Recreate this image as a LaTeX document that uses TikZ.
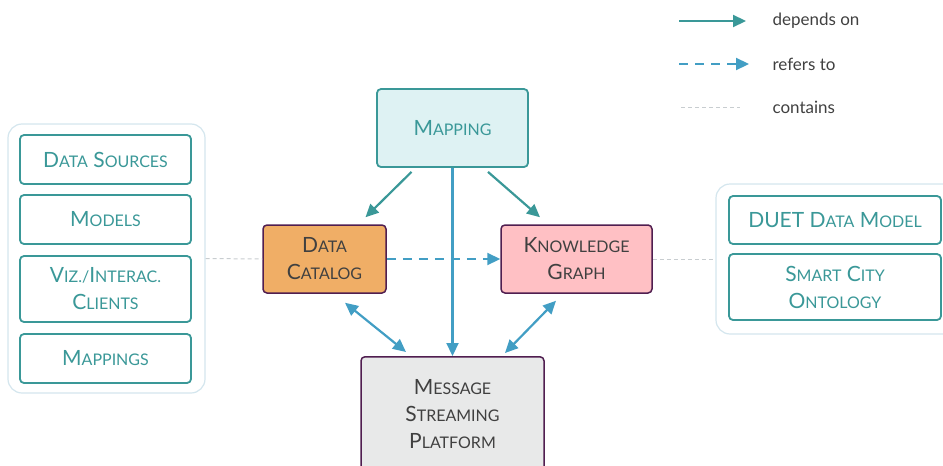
\documentclass[tikz,border=0pt]{standalone}
\usepackage{fontspec}
\setmainfont{Lato}
\usetikzlibrary{arrows.meta}

\definecolor{tealc}{RGB}{58,152,152}
\definecolor{bluec}{RGB}{66,158,196}
\definecolor{mapfill}{RGB}{222,242,243}
\definecolor{catfill}{RGB}{240,174,102}
\definecolor{kgfill}{RGB}{255,192,196}
\definecolor{mspfill}{RGB}{232,233,233}
\definecolor{plum}{RGB}{80,30,80}
\definecolor{grpline}{RGB}{212,230,238}
\definecolor{txt}{RGB}{64,64,64}
\definecolor{contline}{RGB}{200,205,208}

% fake small caps: first letter full size, rest smaller capitals
\newcommand{\scw}[2]{#1{\fontsize{16}{27}\selectfont\MakeUppercase{#2}}}

\tikzset{
  box/.style={rectangle, rounded corners=4pt, line width=1.8pt, align=center,
    font=\fontsize{21}{27}\selectfont},
  tealbox/.style={box, draw=tealc, fill=white, text=tealc},
  corebox/.style={box, draw=plum, line width=1.5pt, text=txt},
  group/.style={rectangle, rounded corners=14pt, draw=grpline, line width=1.2pt, fill=white},
  dep/.style={-{Triangle[length=13pt,width=12pt]}, line width=2.2pt, tealc},
  ref/.style={-{Triangle[length=13pt,width=12pt]}, line width=2.2pt, bluec},
  both/.style={{Triangle[length=13pt,width=12pt]}-{Triangle[length=13pt,width=12pt]}, line width=2.2pt, bluec},
  refd/.style={ref, dash pattern=on 9pt off 7pt},
  cont/.style={contline, line width=1pt, dash pattern=on 4pt off 3pt},
  legtext/.style={anchor=west, text=txt, font=\fontsize{17}{19}\selectfont}
}

\begin{document}
\begin{tikzpicture}[x=1pt, y=-1pt]
  \useasboundingbox (0,0) rectangle (943,466);

  % groups
  \node[group, minimum width=197pt, minimum height=269pt] (lgrp) at (106.5,258.5) {};
  \node[group, minimum width=244pt, minimum height=150pt] (rgrp) at (838,259) {};

  \node[tealbox, minimum width=171pt, minimum height=49pt] (src) at (105.5,159.5) {\scw{D}{ata} \scw{S}{ources}};
  \node[tealbox, minimum width=171pt, minimum height=49pt] (mod) at (105.5,219.5) {\scw{M}{odels}};
  \node[tealbox, minimum width=171pt, minimum height=66pt] (viz) at (105.5,289) {\scw{V}{iz./}\scw{I}{nterac.}\\\scw{C}{lients}};
  \node[tealbox, minimum width=171pt, minimum height=49pt] (maps) at (105.5,358.5) {\scw{M}{appings}};

  \node[tealbox, minimum width=212pt, minimum height=48pt] (duet) at (835,220) {DUET \scw{D}{ata} \scw{M}{odel}};
  \node[tealbox, minimum width=212pt, minimum height=66pt] (onto) at (835,287) {\scw{S}{mart} \scw{C}{ity}\\\scw{O}{ntology}};

  % core
  \node[tealbox, fill=mapfill, minimum width=151pt, minimum height=78pt] (map) at (452.5,128) {\scw{M}{apping}};
  \node[corebox, fill=catfill, minimum width=123pt, minimum height=68pt] (dc) at (324.5,259) {\scw{D}{ata}\\\scw{C}{atalog}};
  \node[corebox, fill=kgfill, minimum width=151pt, minimum height=68pt] (kg) at (576.5,259) {\scw{K}{nowledge}\\\scw{G}{raph}};
  \node[corebox, fill=mspfill, minimum width=183pt, minimum height=124pt, anchor=north] (msp) at (452.5,356) {};
  \node[text=txt, align=center, font=\fontsize{21}{27}\selectfont] (msptxt) at (452.5,414) {\scw{M}{essage}\\\scw{S}{treaming}\\\scw{P}{latform}};

  \begin{scope}
    \draw[dep] ([xshift=-41pt,yshift=-4pt]map.south) to ([xshift=41pt,yshift=7pt]dc.north);
    \draw[dep] ([xshift=35.5pt,yshift=-4pt]map.south) to ([xshift=-36.5pt,yshift=7pt]kg.north);
    \draw[ref] (map.south) to (msp.north);
    \draw[both] ([xshift=20.5pt,yshift=-9pt]dc.south) to ([xshift=-46.5pt,yshift=4pt]msp.north);
    \draw[both] ([xshift=-20.5pt,yshift=-7pt]kg.south) to ([xshift=52.5pt,yshift=3pt]msp.north);
    \draw[refd] (dc.east) to (kg.west);
    \draw[cont] (lgrp.east) to (dc.west);
    \draw[cont] (kg.east) to (rgrp.west);
  \end{scope}

  % legend
  \coordinate (d1) at (679,21);  \coordinate (d2) at (746,21);
  \coordinate (r1) at (679,64);  \coordinate (r2) at (749,64);
  \coordinate (c1) at (681,107); \coordinate (c2) at (740,107);
  \draw[dep] (d1) -- (d2);
  \draw[refd] (r1) -- (r2);
  \draw[cont] (c1) -- (c2);
  \node[legtext] (ldep) at (769,21) {depends on};
  \node[legtext] (lref) at (769,64) {refers to};
  \node[legtext] (lcont) at (769,107) {contains};
\end{tikzpicture}
\end{document}
